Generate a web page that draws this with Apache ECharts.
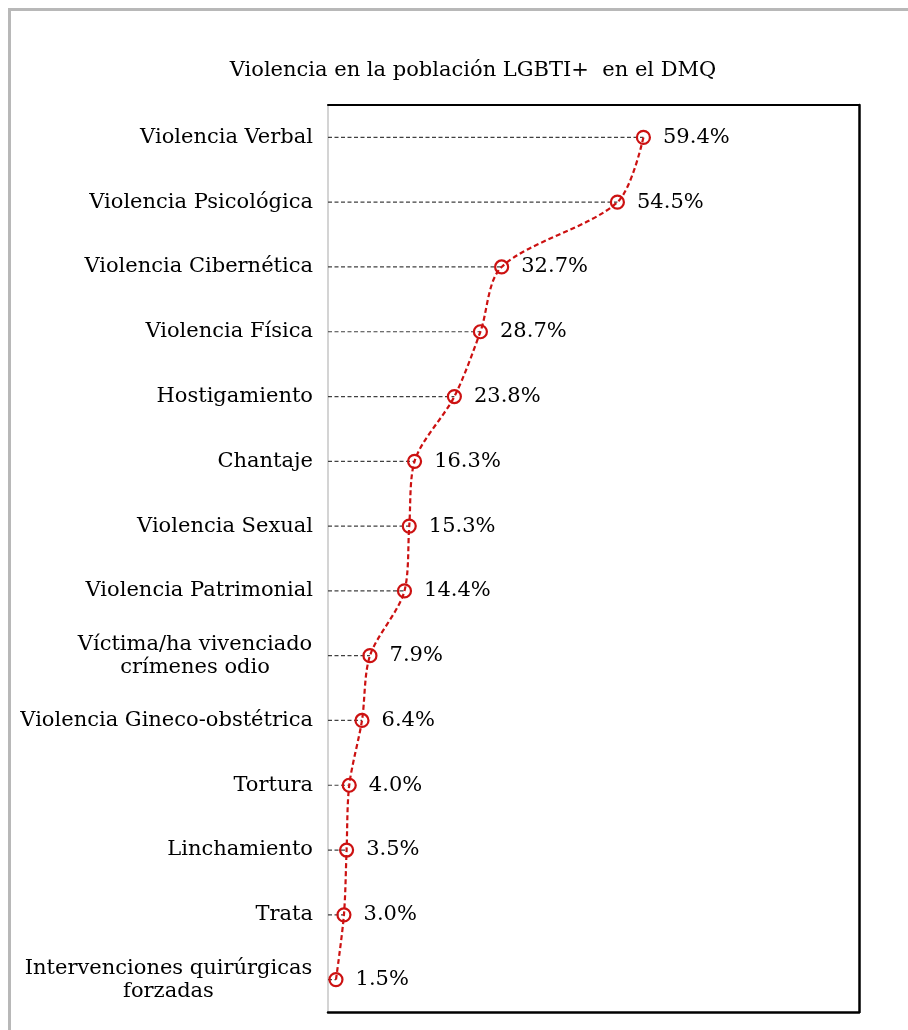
<!DOCTYPE html>
<html>
<head>
<meta charset="utf-8">
<script src="https://cdn.jsdelivr.net/npm/echarts@6/dist/echarts.min.js"></script>
<style>
html,body{margin:0;padding:0;background:#fff;}
#chart{width:908px;height:1030px;}
</style>
</head>
<body>
<div id="chart"></div>
<script>
const titleText = 'Violencia en la población LGBTI+  en el DMQ';
const categories = [
  'Violencia Verbal',
  'Violencia Psicológica',
  'Violencia Cibernética',
  'Violencia Física',
  'Hostigamiento',
  'Chantaje',
  'Violencia Sexual',
  'Violencia Patrimonial',
  'Víctima/ha vivenciado\ncrímenes odio',
  'Violencia Gineco-obstétrica',
  'Tortura',
  'Linchamiento',
  'Trata',
  'Intervenciones quirúrgicas\nforzadas'
];
const values = [59.4, 54.5, 32.7, 28.7, 23.8, 16.3, 15.3, 14.4, 7.9, 6.4, 4.0, 3.5, 3.0, 1.5];
const xMin = 0;
const xMax = 100;

const FONT = '"DejaVu Serif", "Liberation Serif", serif';
const FS = 21;

// measure multi-line labels so each line can be centred within its block
const cv = document.createElement('canvas').getContext('2d');
cv.font = FS + 'px ' + FONT;
const rich = {};
const labelKey = {};
let k = 0;
categories.forEach(c => {
  if (c.indexOf('\n') >= 0) {
    const lines = c.split('\n');
    const w = Math.ceil(Math.max(...lines.map(l => cv.measureText(l).width))) + 1;
    const key = 'm' + (k++);
    rich[key] = {width: w, align: 'center', fontFamily: FONT, fontSize: FS, color: '#000', lineHeight: 23};
    labelKey[c] = key;
  }
});

const chart = echarts.init(document.getElementById('chart'), null, {renderer: 'canvas'});
const red = '#cc1111';

chart.setOption({
  animation: false,
  backgroundColor: '#fff',
  title: {
    text: titleText,
    left: 468,
    top: 55,
    textAlign: 'center',
    textStyle: {fontFamily: FONT, fontSize: FS, fontWeight: 'normal', color: '#000'}
  },
  graphic: [{
    type: 'rect',
    shape: {x: 9.5, y: 9.5, width: 1000, height: 1100},
    style: {fill: 'none', stroke: '#b8b8b8', lineWidth: 3},
    silent: true
  }],
  grid: {left: 328, top: 105, right: 49, bottom: 18, containLabel: false},
  xAxis: [{
    type: 'value', min: xMin, max: xMax, position: 'bottom',
    axisLine: {show: true, onZero: false, lineStyle: {color: '#000', width: 2.5}},
    axisTick: {show: false}, axisLabel: {show: false}, splitLine: {show: false}
  }, {
    type: 'value', min: xMin, max: xMax, position: 'top',
    axisLine: {show: true, onZero: false, lineStyle: {color: '#000', width: 2}},
    axisTick: {show: false}, axisLabel: {show: false}, splitLine: {show: false}
  }],
  yAxis: [{
    type: 'category', data: categories, inverse: true, position: 'left',
    axisLine: {show: true, onZero: false, lineStyle: {color: '#d4d4d4', width: 2}},
    axisTick: {show: false},
    axisLabel: {
      margin: 15, color: '#000', fontFamily: FONT, fontSize: FS, lineHeight: 23,
      formatter: function (v) {
        if (labelKey[v]) {
          return v.split('\n').map(l => '{' + labelKey[v] + '|' + l + '}').join('\n');
        }
        return v;
      },
      rich: rich
    },
    splitLine: {show: false}
  }, {
    type: 'category', data: categories, inverse: true, position: 'right',
    axisLine: {show: true, onZero: false, lineStyle: {color: '#000', width: 2.5}},
    axisTick: {show: false}, axisLabel: {show: false}, splitLine: {show: false}
  }],
  series: [{
    type: 'custom',
    xAxisIndex: 0, yAxisIndex: 0,
    data: values.map((v, i) => [v, i]),
    encode: {x: 0, y: 1},
    silent: true,
    z: 1,
    renderItem: function (params, api) {
      const p0 = api.coord([xMin, api.value(1)]);
      const p1 = api.coord([api.value(0), api.value(1)]);
      return {
        type: 'line',
        shape: {x1: p0[0], y1: p0[1], x2: p1[0], y2: p1[1]},
        style: {stroke: '#404040', lineWidth: 1.2, lineDash: [4, 2.5]}
      };
    }
  }, {
    type: 'line',
    xAxisIndex: 0, yAxisIndex: 0,
    data: values,
    smooth: 0.3,
    z: 3,
    symbol: 'circle',
    symbolSize: 13,
    lineStyle: {color: red, width: 2.2, type: [5, 3]},
    itemStyle: {color: 'rgba(0,0,0,0)', borderColor: red, borderWidth: 2.2},
    label: {
      show: true, position: 'right', distance: 12,
      fontFamily: FONT, fontSize: FS, color: '#000',
      formatter: p => p.value.toFixed(1) + '%'
    }
  }]
});
</script>
</body>
</html>
